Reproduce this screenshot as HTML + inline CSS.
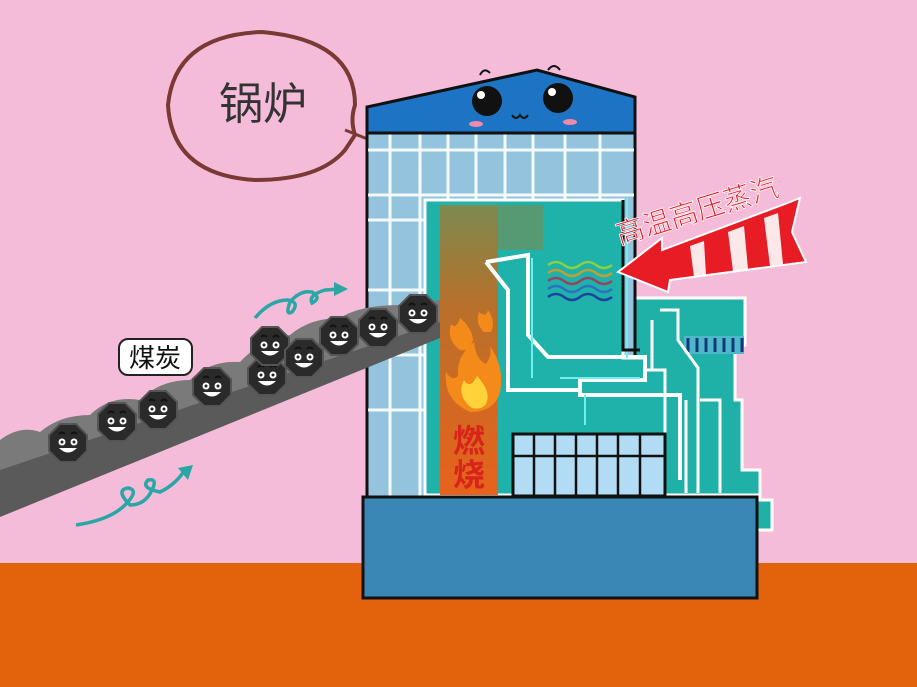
<!DOCTYPE html>
<html><head><meta charset="utf-8"><style>
html,body{margin:0;padding:0;width:917px;height:687px;overflow:hidden;background:#f4bcd9}
svg{display:block}
text{font-family:"Liberation Sans","Noto Sans CJK SC",sans-serif}
</style></head><body>
<svg width="917" height="687" viewBox="0 0 917 687" xmlns="http://www.w3.org/2000/svg">
<defs>
<linearGradient id="fl" x1="0" y1="0" x2="0" y2="1">
<stop offset="0" stop-color="#7c8a50"/><stop offset="0.35" stop-color="#b8702a"/><stop offset="1" stop-color="#e8621c"/></linearGradient>
<g id="coal">
<polygon points="-8,-19 8,-19 19,-8 19,8 8,19 -8,19 -19,8 -19,-8" fill="#2a2a2a" stroke="#555" stroke-width="2"/>
<circle cx="-6" cy="-1" r="3.5" fill="#fff"/><circle cx="6" cy="-1" r="3.5" fill="#fff"/>
<circle cx="-6" cy="-1" r="1.5" fill="#222"/><circle cx="6" cy="-1" r="1.5" fill="#222"/>
<path d="M-9,5 Q0,14 9,5 Z" fill="#fff"/>
<path d="M-9,-9 q3,-3 6,0 M3,-9 q3,-3 6,0" stroke="#111" stroke-width="2" fill="none"/>
</g>
</defs>
<rect x="0" y="563" width="917" height="124" fill="#e3620c"/>
<!-- teal arrows -->
<path d="M76,525 Q110,520 125,505 Q140,490 128,488 Q115,490 130,505 Q145,505 152,490 Q158,478 148,480 Q140,488 160,492 Q175,485 185,470" stroke="#2aa6a6" stroke-width="3.5" fill="none"/>
<polygon points="193,465 178,468 188,480" fill="#2aa6a6"/>
<path d="M255,318 Q270,300 288,300 Q300,302 292,312 Q285,316 290,302 Q300,290 312,292 Q322,298 312,303 Q308,295 325,290 L340,289" stroke="#2aa6a6" stroke-width="3.5" fill="none"/>
<polygon points="348,289 334,282 334,296" fill="#2aa6a6"/>
<!-- speech bubble -->
<path d="M355,135 Q350,120 355,105 Q355,40 262,32 Q175,35 168,105 Q172,175 255,180 Q320,180 345,150 Z" fill="none" stroke="#7a3a34" stroke-width="4"/>
<path d="M345,130 L370,140" stroke="#7a3a34" stroke-width="3"/>
<text x="263" y="119" font-size="44" text-anchor="middle" fill="#333">锅炉</text>
<!-- right structure -->
<path d="M620,298 L745,298 L745,345 L735,350 L735,400 L742,400 L742,470 L760,470 L760,500 L772,500 L772,530 L757,530 L757,495 L620,495 Z" fill="#1fb0a8" stroke="#fff" stroke-width="3"/>
<rect x="684" y="336" width="60" height="18" fill="#4fb8c8"/>
<path d="M688,338 v14 M697,338 v14 M706,338 v14 M715,338 v14 M724,338 v14 M733,338 v14 M742,338 v14" stroke="#123a7a" stroke-width="3"/>
<path d="M660,310 h18 v30 l20,28 v125 M686,400 v93 M700,400 h20 v93 M652,320 v170" stroke="#fff" stroke-width="3" fill="none"/>
<!-- building body -->
<rect x="367" y="132" width="268" height="365" fill="#94c3dd" stroke="#111" stroke-width="3"/>
<path d="M390,134v362 M420,134v362 M448,134v70 M476,134v70 M505,134v70 M533,134v70 M565,134v70 M600,134v70 M368,150h266 M368,195h266 M368,220h58 M368,290h58 M368,355h58 M368,410h58" stroke="#fff" stroke-width="3" opacity="0.9"/>
<path d="M425,200 L623,200 L623,358 L645,358 L645,370 L665,370 L665,495 L425,495 Z" fill="#1eb2aa" stroke="#fff" stroke-width="3"/>
<rect x="440" y="205" width="58" height="290" fill="url(#fl)"/>
<rect x="498" y="205" width="45" height="45" fill="#7c8a50" opacity="0.6"/>
<path d="M486,262 L528,255 L528,335 L548,357 L645,357 L645,380 L580,380 L580,395 L680,395 L680,480 M486,262 L508,290 L508,390 L580,390" stroke="#fff" stroke-width="4" fill="none"/>
<path d="M532,258 v120 M560,378 h80 M585,395 v30 M627,358 v-160" stroke="#6ef0f0" stroke-width="2" fill="none"/>
<path d="M623,200 L623,350 L640,350" stroke="#111" stroke-width="3" fill="none"/>
<!-- waves -->
<g fill="none" stroke-width="2.5">
<path d="M548,265 q8,-6 16,0 t16,0 t16,0 t16,0" stroke="#8ad040"/>
<path d="M548,273 q8,-6 16,0 t16,0 t16,0 t16,0" stroke="#c0a030"/>
<path d="M548,281 q8,-6 16,0 t16,0 t16,0 t16,0" stroke="#a04060"/>
<path d="M548,289 q8,-6 16,0 t16,0 t16,0 t16,0" stroke="#3070c0"/>
<path d="M548,297 q8,-6 16,0 t16,0 t16,0 t16,0" stroke="#2040a0"/>
</g>
<!-- flames -->
<g>
<path d="M470,412 Q443,400 446,372 Q452,382 458,376 Q456,356 474,342 Q476,360 486,364 Q492,356 490,346 Q505,368 500,392 Q495,412 470,412Z" fill="#f48a1a"/>
<path d="M472,408 Q456,396 464,380 Q470,390 477,376 Q492,392 486,404 Q482,410 472,408Z" fill="#ffd23a"/>
<path d="M460,350 Q446,340 451,324 Q456,330 460,318 Q472,328 473,340 Q469,352 460,350Z" fill="#f48a1a"/>
<path d="M484,332 Q475,324 479,312 Q486,318 488,310 Q496,322 491,332Z" fill="#f48a1a"/>
</g>
<text x="469" y="452" font-size="32" font-weight="bold" text-anchor="middle" fill="#d8241a">燃</text>
<text x="469" y="486" font-size="32" font-weight="bold" text-anchor="middle" fill="#d8241a">烧</text>
<!-- windows -->
<rect x="513" y="434" width="152" height="62" fill="#b2dcf4" stroke="#111" stroke-width="3"/>
<path d="M534,434v62 M555,434v62 M576,434v62 M597,434v62 M618,434v62 M640,434v62 M513,456h152" stroke="#111" stroke-width="2.5"/>
<!-- roof -->
<polygon points="367,107 537,70 635,97 635,133 367,133" fill="#1e74c4" stroke="#111" stroke-width="3"/>
<path d="M480,75 q4,-8 10,-2 M548,70 q6,-8 12,0" stroke="#111" stroke-width="2" fill="none"/>
<circle cx="487" cy="101" r="15" fill="#111"/><circle cx="558" cy="98" r="15" fill="#111"/>
<circle cx="481" cy="95" r="4" fill="#fff"/><circle cx="552" cy="92" r="4" fill="#fff"/>
<path d="M512,115 q4,6 8,0 q4,6 8,0" stroke="#111" stroke-width="2" fill="none"/>
<ellipse cx="476" cy="124" rx="7" ry="3" fill="#f08aa8"/><ellipse cx="570" cy="122" rx="7" ry="3" fill="#f08aa8"/>
<!-- base -->
<rect x="363" y="497" width="394" height="101" fill="#3a87b6" stroke="#111" stroke-width="3"/>
<!-- conveyor (over building edge) -->
<path d="M0,440 Q20,425 40,432 Q60,415 90,415 Q110,395 140,400 Q160,380 190,380 Q210,360 240,362 Q260,340 290,335 Q310,318 340,318 Q360,305 400,305 L440,300 L440,330 L0,480 Z" fill="#7a7a7a"/>
<path d="M0,470 L440,322 L440,338 L0,517 Z" fill="#5a5a5a"/>
<g>
<use href="#coal" x="68" y="443"/><use href="#coal" x="117" y="422"/><use href="#coal" x="158" y="410"/>
<use href="#coal" x="212" y="387"/><use href="#coal" x="267" y="376"/><use href="#coal" x="270" y="346"/>
<use href="#coal" x="304" y="358"/><use href="#coal" x="339" y="336"/><use href="#coal" x="378" y="328"/><use href="#coal" x="418" y="314"/>
</g>
<rect x="119" y="339" width="73" height="36" rx="9" fill="#fff" stroke="#222" stroke-width="2"/>
<text x="155" y="367" font-size="26" text-anchor="middle" fill="#111">煤炭</text>
<!-- red arrow pointing left-down -->
<path d="M618,272 L662,238 L662,250 L785,204 L800,198 L792,232 L806,262 L670,280 L668,292 Z" fill="#e81c24" stroke="#fff" stroke-width="2"/>
<path d="M690,246 L704,241 L706,275 L694,277 Z M728,232 L744,226 L748,269 L733,271 Z M764,218 L778,213 L783,264 L770,266 Z" fill="#fff" opacity="0.9"/>
<text x="700" y="220" font-size="28" text-anchor="middle" fill="#e81c24" stroke="#fff" stroke-width="0.8" transform="rotate(-17 700 220)">高温高压蒸汽</text>
</svg>
</body></html>
